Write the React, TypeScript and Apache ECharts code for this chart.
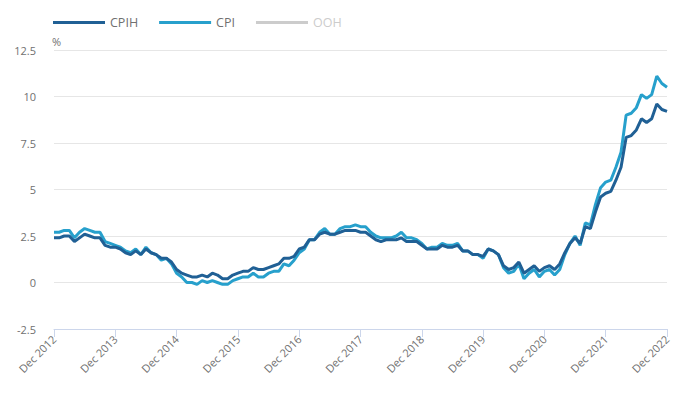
import React, { useEffect, useRef } from "react";
import * as echarts from "echarts";

const years = [2013, 2014, 2015, 2016, 2017, 2018, 2019, 2020, 2021, 2022];
const monthNames = ["Jan", "Feb", "Mar", "Apr", "May", "Jun", "Jul", "Aug", "Sep", "Oct", "Nov", "Dec"];
const categories: string[] = ["Dec 2012"];
years.forEach((y) => monthNames.forEach((m) => categories.push(`${m} ${y}`)));

const cpih = [
  2.4,
  2.4, 2.5, 2.5, 2.2, 2.4, 2.6, 2.5, 2.4, 2.4, 2.0, 1.9, 1.9,
  1.8, 1.6, 1.5, 1.7, 1.5, 1.8, 1.6, 1.5, 1.3, 1.3, 1.1, 0.7,
  0.5, 0.4, 0.3, 0.3, 0.4, 0.3, 0.5, 0.4, 0.2, 0.2, 0.4, 0.5,
  0.6, 0.6, 0.8, 0.7, 0.7, 0.8, 0.9, 1.0, 1.3, 1.3, 1.4, 1.8,
  1.9, 2.3, 2.3, 2.6, 2.7, 2.6, 2.6, 2.7, 2.8, 2.8, 2.8, 2.7,
  2.7, 2.5, 2.3, 2.2, 2.3, 2.3, 2.3, 2.4, 2.2, 2.2, 2.2, 2.0,
  1.8, 1.8, 1.8, 2.0, 1.9, 1.9, 2.0, 1.7, 1.7, 1.5, 1.5, 1.4,
  1.8, 1.7, 1.5, 0.9, 0.7, 0.8, 1.1, 0.5, 0.7, 0.9, 0.6, 0.8,
  0.9, 0.7, 1.0, 1.6, 2.1, 2.4, 2.1, 3.0, 2.9, 3.8, 4.6, 4.8,
  4.9, 5.5, 6.2, 7.8, 7.9, 8.2, 8.8, 8.6, 8.8, 9.6, 9.3, 9.2,
];

const cpi = [
  2.7,
  2.7, 2.8, 2.8, 2.4, 2.7, 2.9, 2.8, 2.7, 2.7, 2.2, 2.1, 2.0,
  1.9, 1.7, 1.6, 1.8, 1.5, 1.9, 1.6, 1.5, 1.2, 1.3, 1.0, 0.5,
  0.3, 0.0, 0.0, -0.1, 0.1, 0.0, 0.1, 0.0, -0.1, -0.1, 0.1, 0.2,
  0.3, 0.3, 0.5, 0.3, 0.3, 0.5, 0.6, 0.6, 1.0, 0.9, 1.2, 1.6,
  1.8, 2.3, 2.3, 2.7, 2.9, 2.6, 2.6, 2.9, 3.0, 3.0, 3.1, 3.0,
  3.0, 2.7, 2.5, 2.4, 2.4, 2.4, 2.5, 2.7, 2.4, 2.4, 2.3, 2.1,
  1.8, 1.9, 1.9, 2.1, 2.0, 2.0, 2.1, 1.7, 1.7, 1.5, 1.5, 1.3,
  1.8, 1.7, 1.5, 0.8, 0.5, 0.6, 1.0, 0.2, 0.5, 0.7, 0.3, 0.6,
  0.7, 0.4, 0.7, 1.5, 2.1, 2.5, 2.0, 3.2, 3.1, 4.2, 5.1, 5.4,
  5.5, 6.2, 7.0, 9.0, 9.1, 9.4, 10.1, 9.9, 10.1, 11.1, 10.7, 10.5,
];

const ooh: number[] = [];

export default function App() {
  const ref = useRef<HTMLDivElement>(null);
  useEffect(() => {
    if (!ref.current) return;
    const chart = echarts.init(ref.current, null, { renderer: "svg" });
    const font = "'Open Sans', sans-serif";
    chart.setOption({
      animation: false,
      textStyle: { fontFamily: font },
      legend: {
        left: 48,
        top: 11,
        icon: "rect",
        itemWidth: 52,
        itemHeight: 3,
        itemGap: 21,
        inactiveColor: "#cccccc",
        textStyle: { color: "#707070", fontSize: 12.5, fontFamily: font },
        selected: { CPIH: true, CPI: true, OOH: false },
        data: ["CPIH", "CPI", "OOH"],
      },
      grid: { left: 54, right: 16, top: 50, bottom: 68, containLabel: false },
      xAxis: {
        type: "category",
        data: categories,
        boundaryGap: false,
        axisLine: { onZero: false, lineStyle: { color: "#ccd6eb", width: 1 } },
        axisTick: {
          alignWithLabel: true,
          length: 8,
          lineStyle: { color: "#ccd6eb" },
          interval: (i: number) => i % 12 === 0,
        },
        axisLabel: {
          interval: (i: number) => i % 12 === 0,
          rotate: 45,
          color: "#707070",
          fontSize: 11,
          fontFamily: font,
          margin: 8,
        },
        splitLine: { show: false },
      },
      yAxis: {
        type: "value",
        min: -2.5,
        max: 12.5,
        interval: 2.5,
        name: "%",
        nameGap: 3,
        nameTextStyle: { color: "#707070", fontSize: 11, fontFamily: font, align: "left", padding: [0, 0, 0, -2] },
        axisLine: { show: false },
        axisTick: { show: false },
        axisLabel: { color: "#707070", fontSize: 11, fontFamily: font, margin: 18 },
        splitLine: { lineStyle: { color: "#e6e6e6", width: 1 } },
      },
      series: [
        {
          name: "CPIH",
          type: "line",
          data: cpih,
          showSymbol: false,
          symbol: "none",
          lineStyle: { width: 3, color: "#206095" },
          itemStyle: { color: "#206095" },
          z: 3,
        },
        {
          name: "CPI",
          type: "line",
          data: cpi,
          showSymbol: false,
          symbol: "none",
          lineStyle: { width: 3, color: "#27a0cc" },
          itemStyle: { color: "#27a0cc" },
          z: 2,
        },
        {
          name: "OOH",
          type: "line",
          data: ooh,
          showSymbol: false,
          symbol: "none",
          lineStyle: { width: 3, color: "#871a5b" },
          itemStyle: { color: "#871a5b" },
        },
      ],
    });
    return () => chart.dispose();
  }, []);
  return <div ref={ref} style={{ width: 683, height: 397, position: "absolute", left: 0, top: 0 }} />;
}
